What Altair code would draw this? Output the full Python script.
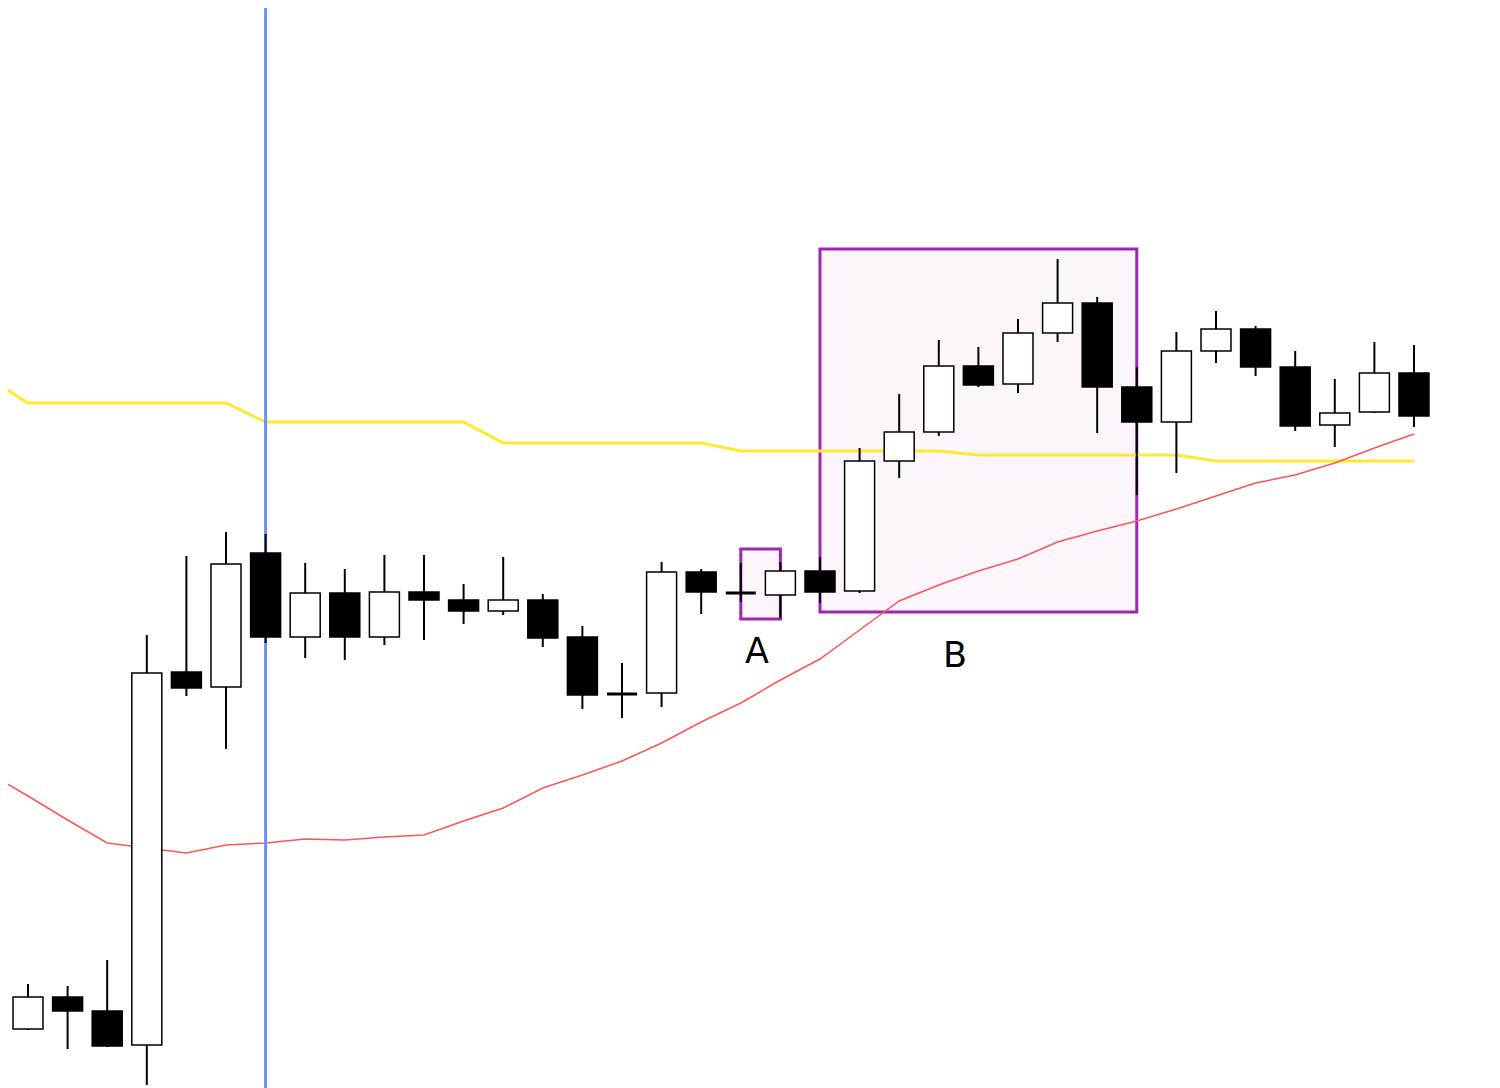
import altair as alt
import pandas as pd

# candle index
idx = list(range(37))
opens = [140.86, 140.59, 140.91, 140.77, 140.43, 144.16, 144.01, 145.35, 144.51, 144.95,
         144.51, 144.96, 144.88, 144.77, 144.88, 144.51, 143.94, 143.95, 145.16, 144.95,
         144.93, 145.17, 144.97, 146.27, 146.56, 147.22, 147.04, 147.55, 147.85, 147.01,
         146.66, 147.37, 147.59, 147.21, 146.63, 146.76, 147.15]
highs = [140.88, 141.04, 141.02, 141.28, 144.53, 145.32, 145.56, 145.54, 145.25, 145.19,
         145.33, 145.33, 145.04, 145.31, 144.94, 144.62, 144.25, 145.26, 145.19, 145.25,
         145.26, 145.31, 146.40, 146.94, 147.48, 147.41, 147.69, 148.29, 147.91, 147.21,
         147.56, 147.77, 147.62, 147.37, 147.09, 147.46, 147.43]
lows = [140.57, 140.58, 140.39, 140.41, 140.03, 143.92, 143.39, 144.45, 144.30, 144.28,
        144.43, 144.48, 144.64, 144.73, 144.41, 143.79, 143.70, 143.81, 144.74, 144.86,
        144.70, 144.85, 144.95, 146.10, 146.52, 147.01, 146.95, 147.46, 146.55, 145.93,
        146.15, 147.25, 147.12, 146.57, 146.41, 146.75, 146.61]
closes = [140.59, 140.91, 140.77, 140.42, 144.15, 144.00, 145.24, 144.51, 144.95, 144.51,
          144.96, 144.88, 144.77, 144.88, 144.50, 143.93, 143.94, 145.16, 144.96, 144.95,
          145.17, 144.96, 146.27, 146.56, 147.22, 147.03, 147.55, 147.85, 147.01, 146.66,
          147.37, 147.59, 147.21, 146.62, 146.75, 147.15, 146.72]
ma_yellow = [147.10, 146.85, 146.85, 146.85, 146.85, 146.85, 146.85, 146.66, 146.66, 146.66,
             146.66, 146.66, 146.66, 146.45, 146.45, 146.45, 146.45, 146.45, 146.45, 146.37,
             146.37, 146.37, 146.37, 146.37, 146.37, 146.33, 146.33, 146.33, 146.33, 146.33,
             146.33, 146.27, 146.27, 146.27, 146.27, 146.27, 146.27]
ma_red = [143.15, 142.92, 142.68, 142.45, 142.40, 142.35, 142.43, 142.45, 142.49, 142.48,
          142.51, 142.53, 142.67, 142.80, 143.00, 143.13, 143.27, 143.45, 143.66, 143.85,
          144.08, 144.29, 144.58, 144.87, 145.03, 145.17, 145.29, 145.46, 145.57, 145.67,
          145.79, 145.92, 146.05, 146.13, 146.25, 146.40, 146.54]

# highlighted zones (index range, price range)
zone_x0 = [21, 19]
zone_x1 = [29, 20]
zone_top = [148.39, 145.39]
zone_bottom = [144.76, 144.69]

# vertical marker
marker_index = [7]

# labels
label_text = ["A", "B"]
label_x = [19.41, 24.41]
label_y = [144.36, 144.32]

df = pd.DataFrame({"i": idx, "open": opens, "high": highs, "low": lows,
                   "close": closes, "yellow": ma_yellow, "red": ma_red})
zones = pd.DataFrame({"x0": zone_x0, "x1": zone_x1, "top": zone_top, "bottom": zone_bottom})
marker = pd.DataFrame({"i": marker_index})
labels = pd.DataFrame({"t": label_text, "x": label_x, "y": label_y})

xs = alt.Scale(domain=[0.495, 37.97], nice=False, zero=False, padding=0)
ys = alt.Scale(domain=[140.00, 150.80], nice=False, zero=False, padding=0)

zone_layer = alt.Chart(zones).mark_rect(
    fill="#fcf5fc", stroke="#9c27b0", strokeWidth=3, clip=True
).encode(
    x=alt.X("x0:Q", scale=xs, axis=None), x2="x1:Q",
    y=alt.Y("top:Q", scale=ys, axis=None), y2="bottom:Q",
)

yellow_layer = alt.Chart(df).mark_line(color="#ffe92e", strokeWidth=3, clip=True).encode(
    x=alt.X("i:Q", scale=xs, axis=None),
    y=alt.Y("yellow:Q", scale=ys, axis=None),
)

red_layer = alt.Chart(df).mark_line(color="#ff5555", strokeWidth=1.5, clip=True).encode(
    x=alt.X("i:Q", scale=xs, axis=None),
    y=alt.Y("red:Q", scale=ys, axis=None),
)

marker_layer = alt.Chart(marker).mark_rule(color="#6b8ff7", strokeWidth=3, clip=True).encode(
    x=alt.X("i:Q", scale=xs, axis=None),
)

wick_layer = alt.Chart(df).mark_rule(color="black", strokeWidth=2, clip=True).encode(
    x=alt.X("i:Q", scale=xs, axis=None),
    y=alt.Y("low:Q", scale=ys, axis=None), y2="high:Q",
)

body_layer = alt.Chart(df).mark_bar(size=30, stroke="black", clip=True).encode(
    x=alt.X("i:Q", scale=xs, axis=None),
    y=alt.Y("open:Q", scale=ys, axis=None), y2="close:Q",
    fill=alt.condition("datum.close > datum.open", alt.value("white"), alt.value("black")),
    strokeWidth=alt.condition("datum.close == datum.open", alt.value(3), alt.value(1.5)),
)

label_layer = alt.Chart(labels).mark_text(
    font="DejaVu Sans", fontSize=35, color="black", align="center", baseline="middle"
).encode(
    x=alt.X("x:Q", scale=xs, axis=None),
    y=alt.Y("y:Q", scale=ys, axis=None),
    text="t:N",
)

chart = alt.layer(
    zone_layer, yellow_layer, red_layer, marker_layer, wick_layer, body_layer, label_layer
).properties(
    width=1484, height=1080, padding=0, background="white"
).configure_view(strokeWidth=0)

chart.save("out.html", embed_options={"renderer": "svg", "actions": False})
